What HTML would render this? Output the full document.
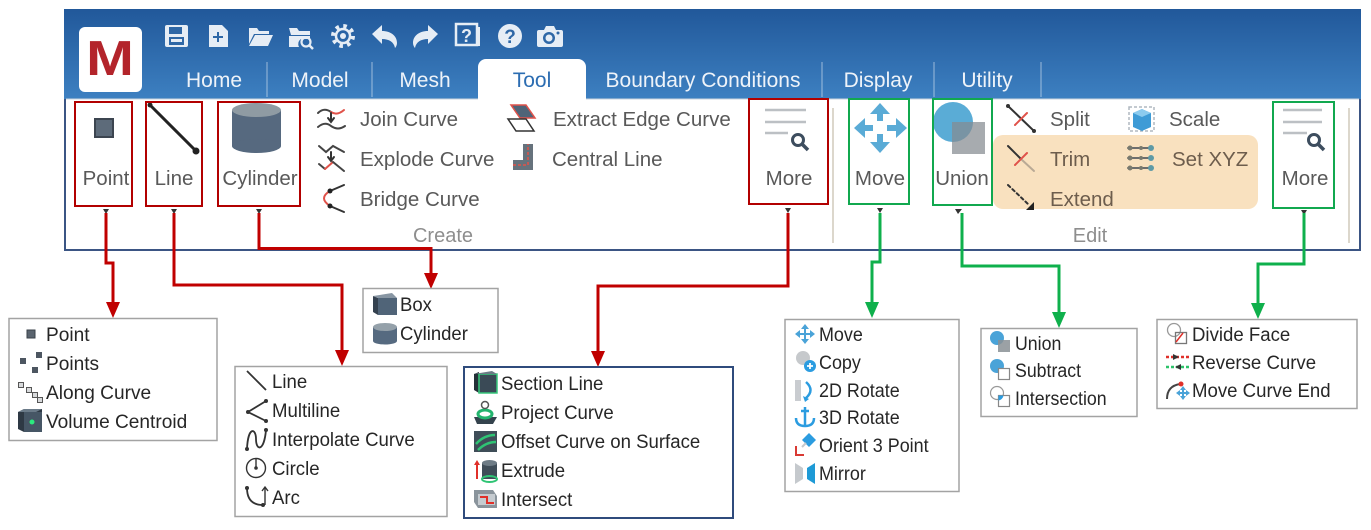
<!DOCTYPE html>
<html><head><meta charset="utf-8">
<style>
html,body{margin:0;padding:0;background:#fff;width:1371px;height:530px;overflow:hidden}
svg{display:block;font-family:"Liberation Sans",Arial,sans-serif}
</style></head><body>
<svg width="1371" height="530" viewBox="0 0 1371 530" xmlns="http://www.w3.org/2000/svg">
<defs>
<linearGradient id="hdr" x1="0" y1="0" x2="0" y2="1">
<stop offset="0" stop-color="#21589a"/><stop offset="1" stop-color="#3d80c1"/>
</linearGradient>
</defs>

<!-- window -->
<rect x="65" y="10" width="1295" height="240" fill="#fff" stroke="#3b5584" stroke-width="2"/>
<rect x="64" y="9" width="1297" height="90" fill="url(#hdr)"/>
<line x1="66" y1="99" x2="1359" y2="99" stroke="#c9d3dc" stroke-width="1"/>

<!-- logo -->
<rect x="79" y="27" width="63" height="65" rx="6" fill="#fff"/>
<text transform="translate(110,75) scale(1.17,1)" text-anchor="middle" font-size="49" font-weight="bold" fill="#b3242b">M</text>

<!-- toolbar icons -->
<g fill="#e6edf5">
 <!-- save -->
 <rect x="165" y="25" width="23" height="22" rx="2"/>
 <rect x="169" y="27" width="13" height="7" fill="#2e67a6"/>
 <rect x="169" y="37" width="15" height="8" fill="#2e67a6"/>
 <rect x="171" y="39" width="11" height="3" fill="#e6edf5"/>
 <!-- new -->
 <path d="M209 25 h13 l6 6 v16 h-19 z"/>
 <path d="M217 32 h2 v4 h4 v2 h-4 v4 h-2 v-4 h-4 v-2 h4 z" fill="#2e67a6"/>
 <!-- open -->
 <path d="M249 28 h8 l2 3 h10 v3 h-15 l-5 10 z"/>
 <path d="M255 35 h18 l-5 11 h-19 z"/>
 <!-- browse -->
 <path d="M289 28 h8 l2 3 h11 v4 h-19 z"/>
 <path d="M289 36 h21 v3 h-9 a6 6 0 0 0 -2 8 h-10 z"/>
 <circle cx="306" cy="42" r="4.5" fill="none" stroke="#e6edf5" stroke-width="2.2"/>
 <line x1="309" y1="45" x2="313" y2="49" stroke="#e6edf5" stroke-width="2.5"/>
 <!-- gear -->
 <circle cx="343" cy="36" r="10" fill="none" stroke="#e6edf5" stroke-width="4" stroke-dasharray="3.5 4.35"/>
 <circle cx="343" cy="36" r="7" fill="none" stroke="#e6edf5" stroke-width="2.5"/>
 <circle cx="343" cy="36" r="3" fill="#e6edf5"/>
 <!-- undo -->
 <path d="M372 34 l10 -9 v6 c9 0 15 5 15 12 c0 2 -1 4 -2 5 c-1 -6 -6 -9 -13 -9 v5 z"/>
 <!-- redo -->
 <path d="M438 34 l-10 -9 v6 c-9 0 -15 5 -15 12 c0 2 1 4 2 5 c1 -6 6 -9 13 -9 v5 z"/>
 <!-- help book -->
 <rect x="456" y="24" width="21" height="21" fill="none" stroke="#e6edf5" stroke-width="2.5"/>
 <path d="M456 46 h24 v-19 h-2 v17 h-22 z"/>
 <text x="466.5" y="42" text-anchor="middle" font-size="18" font-weight="bold" fill="#e6edf5">?</text>
 <!-- help circle -->
 <circle cx="510" cy="36" r="12"/>
 <text x="510" y="43" text-anchor="middle" font-size="19" font-weight="bold" fill="#2e67a6">?</text>
 <!-- camera -->
 <path d="M539 30 h5 l2 -4 h8 l2 4 h5 a2 2 0 0 1 2 2 v13 a2 2 0 0 1 -2 2 h-22 a2 2 0 0 1 -2 -2 v-13 a2 2 0 0 1 2 -2 z"/>
 <circle cx="549" cy="38" r="6" fill="#2e67a6"/>
 <circle cx="549" cy="38" r="3.5" fill="#e6edf5"/>
 <circle cx="558" cy="33" r="1.5" fill="#2e67a6"/>
</g>

<!-- tabs -->
<path d="M478 100 V67 a8 8 0 0 1 8 -8 H578 a8 8 0 0 1 8 8 V100 z" fill="#fff"/>
<g stroke="#ffffff" stroke-opacity="0.35" stroke-width="1.5">
 <line x1="267" y1="62" x2="267" y2="97"/>
 <line x1="372" y1="62" x2="372" y2="97"/>
 <line x1="822" y1="62" x2="822" y2="97"/>
 <line x1="934" y1="62" x2="934" y2="97"/>
 <line x1="1041" y1="62" x2="1041" y2="97"/>
</g>
<g font-size="21" fill="#eef3f9" text-anchor="middle">
 <text x="214" y="87">Home</text>
 <text x="320" y="87">Model</text>
 <text x="425" y="87">Mesh</text>
 <text x="532" y="87" fill="#2c6db2">Tool</text>
 <text x="703" y="87">Boundary Conditions</text>
 <text x="878" y="87">Display</text>
 <text x="987" y="87">Utility</text>
</g>

<!-- ribbon separators -->
<line x1="833" y1="108" x2="833" y2="243" stroke="#dcd7cc" stroke-width="2"/>
<line x1="1349" y1="108" x2="1349" y2="243" stroke="#dcd7cc" stroke-width="2"/>

<!-- orange highlight -->
<rect x="993" y="135" width="265" height="74" rx="10" fill="#f9e1bf"/>

<!-- ribbon big buttons icons -->
<rect x="95" y="119" width="18" height="18" fill="#5d6b7a" stroke="#3c4550" stroke-width="2"/>
<line x1="150" y1="105" x2="196" y2="151" stroke="#222" stroke-width="3"/>
<circle cx="150" cy="105" r="2.5" fill="#222"/><circle cx="196" cy="151" r="3.5" fill="#222"/>
<rect x="232" y="110" width="49" height="36" fill="#56697f"/>
<ellipse cx="256.5" cy="146" rx="24.5" ry="7" fill="#56697f"/>
<ellipse cx="256.5" cy="110" rx="24.5" ry="7" fill="#8f9ba3"/>

<g stroke="#bcc0c4" stroke-width="2.5">
 <line x1="765" y1="110" x2="806" y2="110"/><line x1="765" y1="122" x2="806" y2="122"/><line x1="765" y1="133" x2="788" y2="133"/>
 <line x1="1283" y1="110" x2="1322" y2="110"/><line x1="1283" y1="122" x2="1322" y2="122"/><line x1="1283" y1="133" x2="1307" y2="133"/>
</g>
<g stroke="#3d4d5e" fill="none">
 <circle cx="798" cy="140" r="5.5" stroke-width="3"/><line x1="802" y1="144" x2="808" y2="150" stroke-width="3.5"/>
 <circle cx="1314" cy="140" r="5.5" stroke-width="3"/><line x1="1318" y1="144" x2="1324" y2="150" stroke-width="3.5"/>
</g>

<!-- move icon -->
<g fill="#5aabd6">
 <polygon points="880,103 870,114 890,114"/><rect x="877" y="113" width="6" height="8"/>
 <polygon points="880,153 870,142 890,142"/><rect x="877" y="134" width="6" height="9"/>
 <polygon points="854,128 865,118 865,138"/><rect x="864" y="125" width="9" height="6"/>
 <polygon points="907,128 896,118 896,138"/><rect x="887" y="125" width="10" height="6"/>
</g>
<!-- union icon -->
<circle cx="953" cy="122" r="20" fill="#5aacd6"/>
<rect x="952" y="122" width="33" height="32" fill="#858b90" fill-opacity="0.72"/>

<!-- ribbon small icons -->
<g fill="none" stroke-width="2" stroke-linecap="round">
 <!-- join -->
 <path d="M318 113 q6 -6 13 -1" stroke="#444"/><path d="M331 112 q6 4 13 -2" stroke="#e0524a"/>
 <path d="M318 127 q7 -6 13 -1 q7 5 14 0" stroke="#444"/>
 <line x1="331" y1="113" x2="331" y2="121" stroke="#333"/><path d="M328 118 l3 4 l3 -4" stroke="#333"/>
 <!-- explode -->
 <path d="M319 146 l7 6 l7 -6 l11 6" stroke="#444"/>
 <line x1="331" y1="152" x2="331" y2="160" stroke="#333"/><path d="M328 157 l3 4 l3 -4" stroke="#333"/>
 <path d="M319 164 l6 5" stroke="#444"/><path d="M325 169 l8 -7" stroke="#e0524a"/><path d="M333 162 l11 9" stroke="#444"/>
 <!-- bridge -->
 <path d="M330 191 L344 185 M330 206 L344 212" stroke="#333"/>
 <path d="M330 191 q-12 7 0 15" stroke="#e0524a"/>
 <!-- split -->
 <line x1="1008" y1="106" x2="1034" y2="131" stroke="#333"/>
 <line x1="1015" y1="125" x2="1027" y2="113" stroke="#e0524a"/>
 <!-- trim -->
 <line x1="1008" y1="146" x2="1021" y2="159" stroke="#333"/>
 <line x1="1021" y1="159" x2="1034" y2="171" stroke="#b9a995"/>
 <line x1="1015" y1="165" x2="1027" y2="153" stroke="#e0524a"/>
 <!-- extend -->
 <line x1="1008" y1="185" x2="1028" y2="204" stroke="#333" stroke-dasharray="3 3"/>
 <!-- set xyz -->
 <line x1="1128" y1="148" x2="1152" y2="148" stroke="#6d6d6d"/>
 <line x1="1128" y1="158" x2="1152" y2="158" stroke="#6d6d6d"/>
 <line x1="1128" y1="168" x2="1152" y2="168" stroke="#6d6d6d"/>
</g>
<polygon points="1034,210 1026,210 1034,202" fill="#222"/>
<g fill="#7a7a6e">
 <circle cx="1130" cy="148" r="2.5"/><circle cx="1130" cy="158" r="2.5"/><circle cx="1130" cy="168" r="2.5"/>
 <circle cx="1141" cy="148" r="2"/><circle cx="1141" cy="158" r="2"/><circle cx="1141" cy="168" r="2"/>
</g>
<g fill="#5e9aa6"><circle cx="1151" cy="148" r="3"/><circle cx="1151" cy="158" r="3"/><circle cx="1151" cy="168" r="3"/></g>
<circle cx="1008" cy="106" r="2" fill="#333"/><circle cx="1034" cy="131" r="2" fill="#333"/>
<circle cx="330" cy="191" r="2.5" fill="#222"/><circle cx="330" cy="206" r="2.5" fill="#222"/>
<!-- extract edge -->
<polygon points="511,105 526,105 535,118 520,118" fill="#4f6478" stroke="#e0524a" stroke-width="1.5"/>
<polygon points="508,119 526,119 534,131 516,131" fill="none" stroke="#333" stroke-width="1.5"/>
<!-- central line -->
<path d="M513 160 h10 v-16 h10 v26 h-20 z" fill="#66727c"/>
<path d="M513 165 h15 v-21" fill="none" stroke="#e0524a" stroke-width="1.5" stroke-dasharray="3 2"/>
<!-- scale -->
<rect x="1129" y="107" width="25" height="24" fill="none" stroke="#b0b8c0" stroke-width="1.5" stroke-dasharray="3 2"/>
<polygon points="1133,113 1142,109 1151,113 1151,127 1142,131 1133,127" fill="#3e9bd6"/>
<polygon points="1133,113 1142,109 1151,113 1142,117" fill="#8ccbee"/>

<!-- ribbon button boxes -->
<g fill="none" stroke-width="2">
 <rect x="75" y="102" width="57" height="104" stroke="#b20000"/>
 <rect x="146" y="102" width="56" height="104" stroke="#b20000"/>
 <rect x="218" y="102" width="82" height="104" stroke="#b20000"/>
 <rect x="749" y="99" width="79" height="105" stroke="#b20000"/>
 <rect x="849" y="99" width="60" height="105" stroke="#11a84f"/>
 <rect x="933" y="99" width="59" height="106" stroke="#11a84f"/>
 <rect x="1273" y="102" width="61" height="106" stroke="#11a84f"/>
</g>

<!-- ribbon text -->
<g font-size="20.5" fill="#595959">
 <text x="106" y="185" text-anchor="middle">Point</text>
 <text x="174" y="185" text-anchor="middle">Line</text>
 <text x="260" y="185" text-anchor="middle">Cylinder</text>
 <text x="789" y="185" text-anchor="middle">More</text>
 <text x="880" y="185" text-anchor="middle">Move</text>
 <text x="962" y="185" text-anchor="middle">Union</text>
 <text x="1305" y="185" text-anchor="middle">More</text>
 <text x="360" y="126">Join Curve</text>
 <text x="360" y="166">Explode Curve</text>
 <text x="360" y="206">Bridge Curve</text>
 <text x="553" y="126">Extract Edge Curve</text>
 <text x="552" y="166">Central Line</text>
 <text x="1050" y="126">Split</text>
 <text x="1169" y="126">Scale</text>
 <text x="1050" y="166" fill="#6d5d4d">Trim</text>
 <text x="1172" y="166" fill="#6d5d4d">Set XYZ</text>
 <text x="1050" y="206" fill="#6d5d4d">Extend</text>
</g>
<g font-size="20" fill="#8e8e8e" text-anchor="middle">
 <text x="443" y="242">Create</text>
 <text x="1090" y="242">Edit</text>
</g>

<!-- dropdown triangles -->
<g fill="#333">
 <polygon points="103,209 109,209 106,214"/>
 <polygon points="171,209 177,209 174,214"/>
 <polygon points="256,209 262,209 259,214"/>
 <polygon points="785,208 791,208 788,213"/>
 <polygon points="877,208 883,208 880,213"/>
 <polygon points="955,209 962,209 958,214"/>
 <polygon points="1301,210 1307,210 1304,215"/>
</g>

<!-- connectors -->
<g fill="none" stroke-width="3" stroke-linejoin="miter">
 <path d="M106 213 V263 H113 V303" stroke="#c00000"/>
 <path d="M174 213 V285 H342 V351" stroke="#c00000"/>
 <path d="M259 213 V248.5 H431 V274" stroke="#c00000"/>
 <path d="M788 213 V286 H598 V352" stroke="#c00000"/>
 <path d="M880 213 V262 H872 V303" stroke="#0fb04c"/>
 <path d="M962 213 V266 H1059 V313" stroke="#0fb04c"/>
 <path d="M1304 213 V264 H1258 V304" stroke="#0fb04c"/>
</g>
<g fill="#c00000">
 <polygon points="106,302 120,302 113,318"/>
 <polygon points="335,350 349,350 342,366"/>
 <polygon points="424,273 438,273 431,289"/>
 <polygon points="591,351 605,351 598,367"/>
</g>
<g fill="#0fb04c">
 <polygon points="865,302 879,302 872,318"/>
 <polygon points="1052,312 1066,312 1059,328"/>
 <polygon points="1251,303 1265,303 1258,319"/>
</g>

<!-- menus -->
<g fill="#fff" stroke="#a3a3a3" stroke-width="1.5">
 <rect x="9" y="318.5" width="208" height="122"/>
 <rect x="363" y="288.5" width="135" height="64"/>
 <rect x="235" y="366.5" width="212" height="150"/>
 <rect x="785" y="319.5" width="174" height="172"/>
 <rect x="981" y="328.5" width="156" height="88"/>
 <rect x="1157" y="319.5" width="200" height="89"/>
</g>
<rect x="464" y="367" width="269" height="151" fill="#fff" stroke="#2f4b7c" stroke-width="2"/>

<!-- point menu icons -->
<rect x="27" y="330" width="8" height="8" fill="#5a646f" stroke="#3a424a"/>
<g fill="#4d5661"><rect x="20" y="358" width="6" height="6"/><rect x="36" y="352" width="6" height="6"/><rect x="32" y="367" width="6" height="6"/></g>
<g fill="#d8dadc" stroke="#555" stroke-width="1"><rect x="18.5" y="382.5" width="5" height="5"/><rect x="26.5" y="387.5" width="5" height="5"/><rect x="32.5" y="392.5" width="5" height="5"/><rect x="37.5" y="397.5" width="5" height="5"/></g>
<polygon points="18,412 24,409 42,409 42,431 24,432 18,429" fill="#2e3944"/>
<rect x="24" y="412" width="18" height="20" fill="#465665"/>
<polygon points="18,412 24,409 42,409 36,412" fill="#6a7a88"/>
<circle cx="32" cy="422" r="2.5" fill="#2bea7e"/>

<!-- box menu icons -->
<polygon points="373,296 378,298 378,315 373,312" fill="#34414f"/>
<rect x="378" y="298" width="19" height="17" fill="#506478"/>
<polygon points="373,296 392,293 397,298 378,298" fill="#8896a3"/>
<rect x="373" y="327" width="24" height="14" fill="#566a80"/>
<ellipse cx="385" cy="341" rx="12" ry="3.5" fill="#566a80"/>
<ellipse cx="385" cy="327" rx="12" ry="4" fill="#95a1aa"/>

<!-- line menu icons -->
<g fill="none" stroke="#333" stroke-width="1.8">
 <line x1="247" y1="371" x2="266" y2="390"/>
 <path d="M266 401 L248 412 L266 421"/>
 <path d="M247 449 C248 426 256 428 256 439 C256 451 264 452 266 430"/>
 <circle cx="256" cy="468" r="9.5" stroke-width="1.4"/>
 <line x1="256" y1="459" x2="256" y2="468" stroke-width="1.4"/>
 <path d="M247 488 Q247 505 263 505"/>
 <path d="M265 505 V488 M262 491 l3 -4 l3 4" stroke-width="1.4"/>
</g>
<g fill="#333"><circle cx="248" cy="412" r="2"/><circle cx="266" cy="401" r="2"/><circle cx="266" cy="421" r="2"/><circle cx="247" cy="449" r="2"/><circle cx="266" cy="430" r="2"/><circle cx="256" cy="468" r="1.8"/><circle cx="247" cy="488" r="2"/><circle cx="263" cy="505" r="2"/></g>

<!-- section menu icons -->
<polygon points="474,374 479,372 479,393 474,390" fill="#243038"/>
<rect x="479" y="374" width="18" height="19" fill="#3a4a56" stroke="#36c77b" stroke-width="1.5"/>
<polygon points="474,374 492,371 497,374 479,374" fill="#6b7b86"/>
<polygon points="474,417 497,417 493,424 477,424" fill="#34434d"/>
<ellipse cx="485" cy="414" rx="7" ry="4" fill="none" stroke="#23b46e" stroke-width="3"/>
<circle cx="485" cy="405" r="3.5" fill="none" stroke="#555" stroke-width="1.5"/>
<rect x="474" y="431" width="23" height="21" fill="#3f4d58"/>
<path d="M476 444 q8 -9 19 -9 M478 450 q8 -8 18 -8" fill="none" stroke="#2fc474" stroke-width="2.5"/>
<line x1="477" y1="479" x2="477" y2="463" stroke="#e0302a" stroke-width="2"/>
<polygon points="474,465 480,465 477,460" fill="#e0302a"/>
<rect x="482" y="463" width="15" height="16" fill="#3f4d58"/>
<ellipse cx="489.5" cy="463" rx="7.5" ry="3" fill="#6e7c86"/>
<ellipse cx="489.5" cy="479" rx="7.5" ry="3" fill="none" stroke="#2fc474" stroke-width="2"/>
<polygon points="474,490 493,490 497,496 497,508 478,508 474,502" fill="#8a949c"/>
<rect x="478" y="494" width="17" height="11" fill="#c5cbd0"/>
<path d="M480 497 h7 v6 h7" fill="none" stroke="#e0302a" stroke-width="2"/>

<!-- move menu icons -->
<g fill="#4aa3d8">
 <polygon points="805,324 801,329 809,329"/><polygon points="805,344 801,339 809,339"/>
 <polygon points="795,334 800,330 800,338"/><polygon points="815,334 810,330 810,338"/>
 <rect x="804" y="329" width="2" height="10"/><rect x="800" y="333" width="10" height="2"/>
</g>
<circle cx="803" cy="358" r="7" fill="#c6c9cc"/>
<circle cx="810" cy="366" r="6" fill="#2b9ce0"/>
<path d="M807 366 h6 M810 363 v6" stroke="#fff" stroke-width="1.8"/>
<rect x="795" y="380" width="6" height="21" fill="#c9ccd0"/>
<path d="M806 382 q9 8 0 16" fill="none" stroke="#2b9ce0" stroke-width="2.5"/>
<polygon points="803,396 809,399 805,402" fill="#2b9ce0"/>
<g fill="none" stroke="#2b9ce0" stroke-width="2.5">
 <line x1="805" y1="407" x2="805" y2="426"/>
 <path d="M796 418 q0 8 9 8 q9 0 9 -8"/>
 <line x1="801" y1="411" x2="809" y2="411"/>
</g>
<polygon points="809,433 816,440 809,447 802,440" fill="#2b9ce0"/>
<path d="M796 446 v9 h8" fill="none" stroke="#d93a34" stroke-width="2"/>
<line x1="802" y1="447" x2="806" y2="443" stroke="#c6c9cc" stroke-width="2"/>
<polygon points="795,463 803,468 803,479 795,484" fill="#c5c9cd"/>
<polygon points="815,463 807,468 807,479 815,484" fill="#1e9ad6"/>

<!-- union menu icons -->
<circle cx="997" cy="338" r="7" fill="#4aa3d8"/>
<rect x="998" y="340" width="12" height="12" fill="#8a9095" fill-opacity="0.85"/>
<circle cx="997" cy="366" r="7" fill="#4aa3d8"/>
<rect x="998.5" y="368.5" width="11" height="11" fill="#fff" stroke="#888" stroke-width="1.2"/>
<circle cx="997" cy="393" r="6.5" fill="#fff" stroke="#999" stroke-width="1.2"/>
<rect x="998.5" y="395.5" width="11" height="11" fill="none" stroke="#888" stroke-width="1.2"/>
<path d="M998.5 395.5 h5 a6.5 6.5 0 0 1 -5 5 z" fill="#2b9ce0"/>

<!-- divide menu icons -->
<circle cx="1174" cy="330" r="6.5" fill="none" stroke="#999" stroke-width="1.3"/>
<rect x="1175.5" y="332.5" width="11" height="11" fill="none" stroke="#777" stroke-width="1.3"/>
<line x1="1176" y1="342" x2="1183" y2="333" stroke="#e0302a" stroke-width="1.5"/>
<line x1="1166" y1="357" x2="1189" y2="357" stroke="#e0302a" stroke-width="2.5" stroke-dasharray="3 2"/>
<line x1="1166" y1="367" x2="1189" y2="367" stroke="#2dc36a" stroke-width="2.5" stroke-dasharray="3 2"/>
<polygon points="1173,354 1179,357 1173,360" fill="#333"/>
<polygon points="1181,364 1175,367 1181,370" fill="#333"/>
<path d="M1167 399 q0 -13 13 -15" fill="none" stroke="#444" stroke-width="2"/>
<circle cx="1181" cy="384" r="2.5" fill="#e0302a"/>
<g fill="#4aa3d8">
 <polygon points="1183,386 1180,390 1186,390"/><polygon points="1183,400 1180,396 1186,396"/>
 <polygon points="1176,393 1180,390 1180,396"/><polygon points="1190,393 1186,390 1186,396"/>
 <rect x="1182" y="389" width="2" height="8"/><rect x="1179" y="392" width="8" height="2"/>
</g>

<!-- menu texts -->
<g font-size="19.5" fill="#262626">
 <g transform="translate(46,0) scale(0.98,1)">
  <text x="0" y="341">Point</text><text x="0" y="370">Points</text><text x="0" y="399">Along Curve</text><text x="0" y="428">Volume Centroid</text>
 </g>
 <g transform="translate(400,0) scale(0.95,1)">
  <text x="0" y="311">Box</text><text x="0" y="340">Cylinder</text>
 </g>
 <g transform="translate(272,0) scale(0.955,1)">
  <text x="0" y="388">Line</text><text x="0" y="417">Multiline</text><text x="0" y="446">Interpolate Curve</text><text x="0" y="475">Circle</text><text x="0" y="504">Arc</text>
 </g>
 <g transform="translate(501,0) scale(0.955,1)">
  <text x="0" y="390">Section Line</text><text x="0" y="419">Project Curve</text><text x="0" y="448">Offset Curve on Surface</text><text x="0" y="477">Extrude</text><text x="0" y="506">Intersect</text>
 </g>
 <g transform="translate(819,0) scale(0.92,1)">
  <text x="0" y="341">Move</text><text x="0" y="369">Copy</text><text x="0" y="397">2D Rotate</text><text x="0" y="424">3D Rotate</text><text x="0" y="452">Orient 3 Point</text><text x="0" y="480">Mirror</text>
 </g>
 <g transform="translate(1015,0) scale(0.91,1)">
  <text x="0" y="350">Union</text><text x="0" y="377">Subtract</text><text x="0" y="405">Intersection</text>
 </g>
 <g transform="translate(1192,0) scale(0.955,1)">
  <text x="0" y="341">Divide Face</text><text x="0" y="369">Reverse Curve</text><text x="0" y="397">Move Curve End</text>
 </g>
</g>
</svg>
</body></html>
